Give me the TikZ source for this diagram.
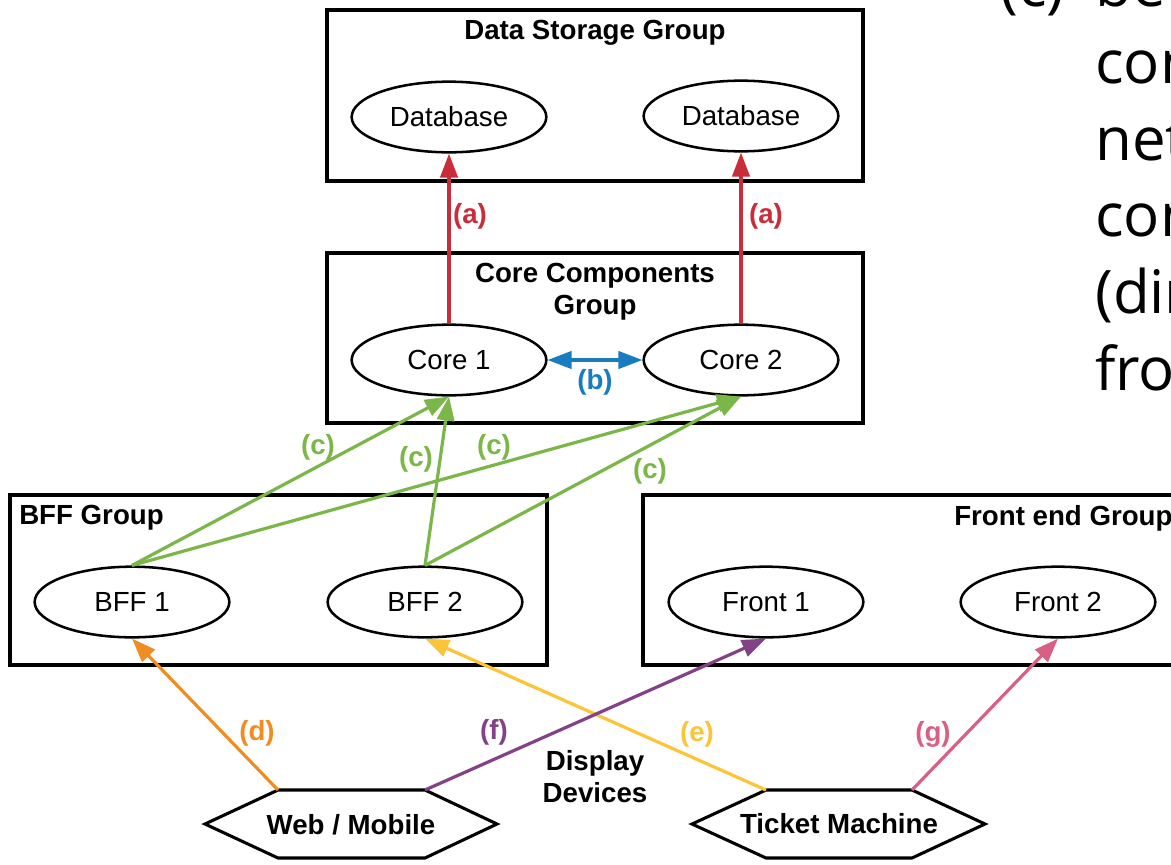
\documentclass[tikz,border=0pt]{standalone}
\usepackage{fontspec}
\setmainfont{Liberation Sans}
\newfontfamily\notefont{Open Sans}
\usetikzlibrary{shapes.geometric,arrows.meta}

\definecolor{cRed}{HTML}{C92D39}
\definecolor{cBlue}{HTML}{1A7CC0}
\definecolor{cGreen}{HTML}{7AB648}
\definecolor{cOrange}{HTML}{EF8D22}
\definecolor{cYellow}{HTML}{FCC438}
\definecolor{cPurple}{HTML}{834187}
\definecolor{cPink}{HTML}{D95F83}

\tikzset{
  groupbox/.style={draw=black, line width=3pt},
  grouptitle/.style={font=\bfseries\fontsize{20.75}{24}\selectfont, inner sep=0pt, align=center},
  comp/.style={ellipse, draw=black, line width=1.9pt, fill=white,
    minimum width=146pt, minimum height=53pt, inner sep=0pt,
    font=\fontsize{20.75}{24}\selectfont},
  device/.style={draw=black, line width=2.3pt, line join=miter},
  devtext/.style={font=\bfseries\fontsize{20.75}{24}\selectfont, inner sep=0pt},
  link/.style={line width=2.4pt, -{Triangle[length=18pt,width=13pt]}},
  duallink/.style={line width=2.4pt, {Triangle[length=18pt,width=13pt]}-{Triangle[length=18pt,width=13pt]}},
  lbl/.style={font=\bfseries\fontsize{20.75}{24}\selectfont, inner sep=0pt},
  note/.style={font=\notefont\fontsize{45}{57}\selectfont, anchor=base west, inner sep=0pt}
}

\begin{document}
\begin{tikzpicture}[x=0.75pt, y=-0.75pt]
\useasboundingbox (0,0) rectangle (1171,864);
\clip (0,0) rectangle (1171,864);
\fill[white] (0,0) rectangle (1171,864);

% group frames
\draw[groupbox] (327,10) rectangle (863,181);
\draw[groupbox] (327,253) rectangle (863,423);
\draw[groupbox] (10,495) rectangle (547,665);
\draw[groupbox] (643,495) rectangle (1190,665);

\node[grouptitle] (tStore) at (595,33) {Data Storage Group};
\node[grouptitle] (tCore) at (595,292) {Core Components\\Group};
\node[grouptitle, anchor=west] (tBff) at (19,518) {BFF Group};
\node[grouptitle, anchor=west] (tFront) at (954,518) {Front end Group};

% components
\node[comp] (db1) at (449,117) {Database};
\node[comp] (db2) at (741,116) {Database};
\node[comp] (core1) at (449,360) {Core 1};
\node[comp] (core2) at (741,360) {Core 2};
\node[comp] (bff1) at (132,602) {BFF 1};
\node[comp] (bff2) at (425,602) {BFF 2};
\node[comp] (front1) at (766,602) {Front 1};
\node[comp] (front2) at (1058,602) {Front 2};

% display devices
\coordinate (webL) at (205,824);
\coordinate (webTL) at (278,790);
\coordinate (webTR) at (425,790);
\coordinate (webR) at (497,824);
\coordinate (webBR) at (425,858);
\coordinate (webBL) at (278,858);
\draw[device] (webL) -- (webTL) -- (webTR) -- (webR) -- (webBR) -- (webBL) -- cycle;
\node[devtext] (web) at (351,825) {Web / Mobile};

\coordinate (tkL) at (692,824);
\coordinate (tkTL) at (766,790);
\coordinate (tkTR) at (912,790);
\coordinate (tkR) at (985,824);
\coordinate (tkBR) at (912,858);
\coordinate (tkBL) at (766,858);
\draw[device] (tkL) -- (tkTL) -- (tkTR) -- (tkR) -- (tkBR) -- (tkBL) -- cycle;
\node[devtext] (ticket) at (839,824) {Ticket Machine};

\node[grouptitle] (disp) at (595,777) {Display\\Devices};

% connections
\draw[link, cRed] (core1.north) -- (db1.south);
\draw[link, cRed] (core2.north) -- (db2.south);
\draw[duallink, cBlue] (core1.east) -- (core2.west);

\draw[link, cGreen] (bff1.north) -- (core1.south);
\draw[link, cGreen] (bff1.north) -- (core2.south);
\draw[link, cGreen] (bff2.north) -- (core1.south);
\draw[link, cGreen] (bff2.north) -- (core2.south);

\draw[link, cOrange] (webTL) -- (bff1.south);
\draw[link, cYellow] (tkTL) -- (bff2.south);
\draw[link, cPurple] (webTR) -- (front1.south);
\draw[link, cPink] (tkTR) -- (front2.south);

% connection labels
\node[lbl, text=cRed] (la1) at (470,216) {(a)};
\node[lbl, text=cRed] (la2) at (766,216) {(a)};
\node[lbl, text=cBlue] (lb) at (595,382) {(b)};
\node[lbl, text=cGreen] (lc1) at (318,447) {(c)};
\node[lbl, text=cGreen] (lc2) at (416,459) {(c)};
\node[lbl, text=cGreen] (lc3) at (494,447) {(c)};
\node[lbl, text=cGreen] (lc4) at (650,471) {(c)};
\node[lbl, text=cOrange] (ld) at (257,733) {(d)};
\node[lbl, text=cYellow] (le) at (697,734) {(e)};
\node[lbl, text=cPurple] (lf) at (494,732) {(f)};
\node[lbl, text=cPink] (lg) at (933,734) {(g)};

% side note
\node[note] (n0) at (1000,6) {(c)};
\node[note] (n1) at (1095,6) {be};
\node[note] (n2) at (1095,83) {con};
\node[note] (n3) at (1095,160) {net};
\node[note] (n4) at (1095,236) {con};
\node[note] (n5) at (1095,313) {(dir};
\node[note] (n6) at (1095,390) {fro};
\end{tikzpicture}
\end{document}
